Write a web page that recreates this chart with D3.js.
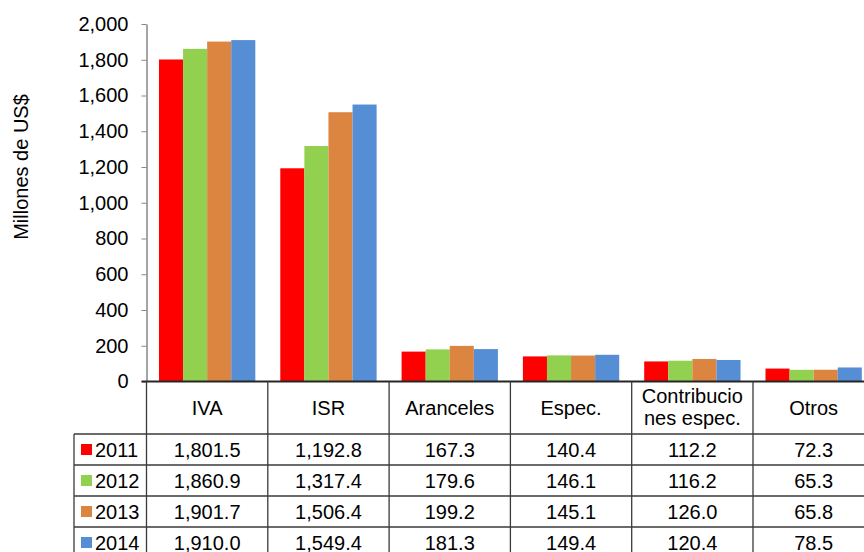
<!DOCTYPE html>
<html>
<head>
<meta charset="utf-8">
<script src="https://cdn.jsdelivr.net/npm/d3@7"></script>
<style>
  body { margin: 0; background: #fff; }
  svg { font-family: "Liberation Sans", Arial, sans-serif; }
</style>
</head>
<body>
<div id="chart"></div>
<script>
// data
let categories = ["IVA", "ISR", "Aranceles", "Espec.", "Contribuciones espec.", "Otros"];
let catLines = [["IVA"], ["ISR"], ["Aranceles"], ["Espec."], ["Contribucio", "nes espec."], ["Otros"]];
let years = ["2011", "2012", "2013", "2014"];
let v2011 = [1801.5, 1192.8, 167.3, 140.4, 112.2, 72.3];
let v2012 = [1860.9, 1317.4, 179.6, 146.1, 116.2, 65.3];
let v2013 = [1901.7, 1506.4, 199.2, 145.1, 126.0, 65.8];
let v2014 = [1910.0, 1549.4, 181.3, 149.4, 120.4, 78.5];
let yTicks = [0, 200, 400, 600, 800, 1000, 1200, 1400, 1600, 1800, 2000];
let colors = ["#ff0000", "#92d050", "#dc8541", "#558ed5"];

let series = [v2011, v2012, v2013, v2014];

let width = 864, height = 552;
let plotLeft = 146.5, plotTop = 24, plotBottom = 381.5;
let bandW = 121.3;
let rowH = 31;
let headerBottom = 434;
let legendLeft = 74;
let fontSize = 20;

let svg = d3.select("#chart").append("svg")
	.attr("width", width)
	.attr("height", height);

let x = d3.scaleBand()
	.domain(categories)
	.range([plotLeft, plotLeft + bandW * categories.length])
	.paddingInner(0.206)
	.paddingOuter(0.103);

let x0 = d3.scaleBand()
	.domain(categories)
	.range([plotLeft, plotLeft + bandW * categories.length]);

let xs = d3.scaleBand()
	.domain(years)
	.range([0, x.bandwidth()]);

let y = d3.scaleLinear()
	.domain([0, 2000])
	.range([plotBottom, plotTop]);

// bars
let groups = svg.selectAll("g.cat")
	.data(categories)
	.enter()
	.append("g")
	.attr("class", "cat")
	.attr("transform", d => "translate(" + x(d) + ",0)");

groups.selectAll("rect")
	.data((d, i) => years.map((yr, j) => ({yr: yr, v: series[j][i], j: j})))
	.enter()
	.append("rect")
	.attr("x", d => xs(d.yr))
	.attr("y", d => y(d.v))
	.attr("width", xs.bandwidth())
	.attr("height", d => plotBottom - y(d.v))
	.attr("fill", d => colors[d.j]);

// y axis
let yaxis = d3.axisLeft(y)
	.tickValues(yTicks)
	.tickFormat(d3.format(","))
	.tickSize(5)
	.tickSizeOuter(0)
	.tickPadding(13);

let ya = svg.append("g")
	.attr("transform", "translate(" + plotLeft + ",0)")
	.call(yaxis);
ya.select(".domain").attr("stroke", "#868686").attr("stroke-width", 1.5);
ya.selectAll(".tick line").attr("stroke", "#868686");
ya.selectAll(".tick text").attr("font-size", fontSize).attr("fill", "#000")
	.attr("font-family", "Liberation Sans, Arial, sans-serif");

svg.append("text")
	.attr("transform", "translate(28,167) rotate(-90)")
	.attr("text-anchor", "middle")
	.attr("font-size", fontSize)
	.text("Millones de US$");

// data table
let tableRight = plotLeft + bandW * categories.length;
let lineColor = "#3a3a3a";
let tbl = svg.append("g").attr("stroke", lineColor).attr("stroke-width", 1.3);

// horizontal lines
tbl.append("line").attr("x1", plotLeft - 5).attr("x2", tableRight).attr("y1", plotBottom).attr("y2", plotBottom)
	.attr("stroke", "#262626").attr("stroke-width", 1.8);
years.forEach((yr, i) => {
	let yy = headerBottom + i * rowH;
	tbl.append("line").attr("x1", legendLeft).attr("x2", tableRight).attr("y1", yy).attr("y2", yy);
});
let tableBottom = headerBottom + years.length * rowH;
tbl.append("line").attr("x1", legendLeft).attr("x2", tableRight).attr("y1", tableBottom).attr("y2", tableBottom);

// vertical lines
tbl.append("line").attr("x1", legendLeft).attr("x2", legendLeft).attr("y1", headerBottom).attr("y2", tableBottom);
categories.forEach((c, i) => {
	let xx = x0(c);
	tbl.append("line").attr("x1", xx).attr("x2", xx).attr("y1", plotBottom).attr("y2", tableBottom);
});
tbl.append("line").attr("x1", tableRight).attr("x2", tableRight).attr("y1", plotBottom).attr("y2", tableBottom);

// header labels
categories.forEach((c, i) => {
	let cx = x0(c) + x0.bandwidth() / 2;
	let lines = catLines[i];
	let t = svg.append("text")
		.attr("text-anchor", "middle")
		.attr("font-size", fontSize)
		.attr("x", cx)
		.attr("y", lines.length > 1 ? 403 : 415);
	lines.forEach((ln, k) => {
		t.append("tspan").attr("x", cx).attr("dy", k === 0 ? 0 : 22).text(ln);
	});
});

// rows
let fmt = d3.format(",.1f");
years.forEach((yr, j) => {
	let cy = headerBottom + j * rowH + rowH / 2;
	svg.append("rect")
		.attr("x", 81).attr("y", cy - 5.5)
		.attr("width", 11).attr("height", 11)
		.attr("fill", colors[j]);
	svg.append("text")
		.attr("x", 95).attr("y", cy + 7)
		.attr("font-size", fontSize)
		.text(yr);
	categories.forEach((c, i) => {
		svg.append("text")
			.attr("x", x0(c) + x0.bandwidth() / 2)
			.attr("y", cy + 7)
			.attr("text-anchor", "middle")
			.attr("font-size", fontSize)
			.text(fmt(series[j][i]));
	});
});
</script>
</body>
</html>
